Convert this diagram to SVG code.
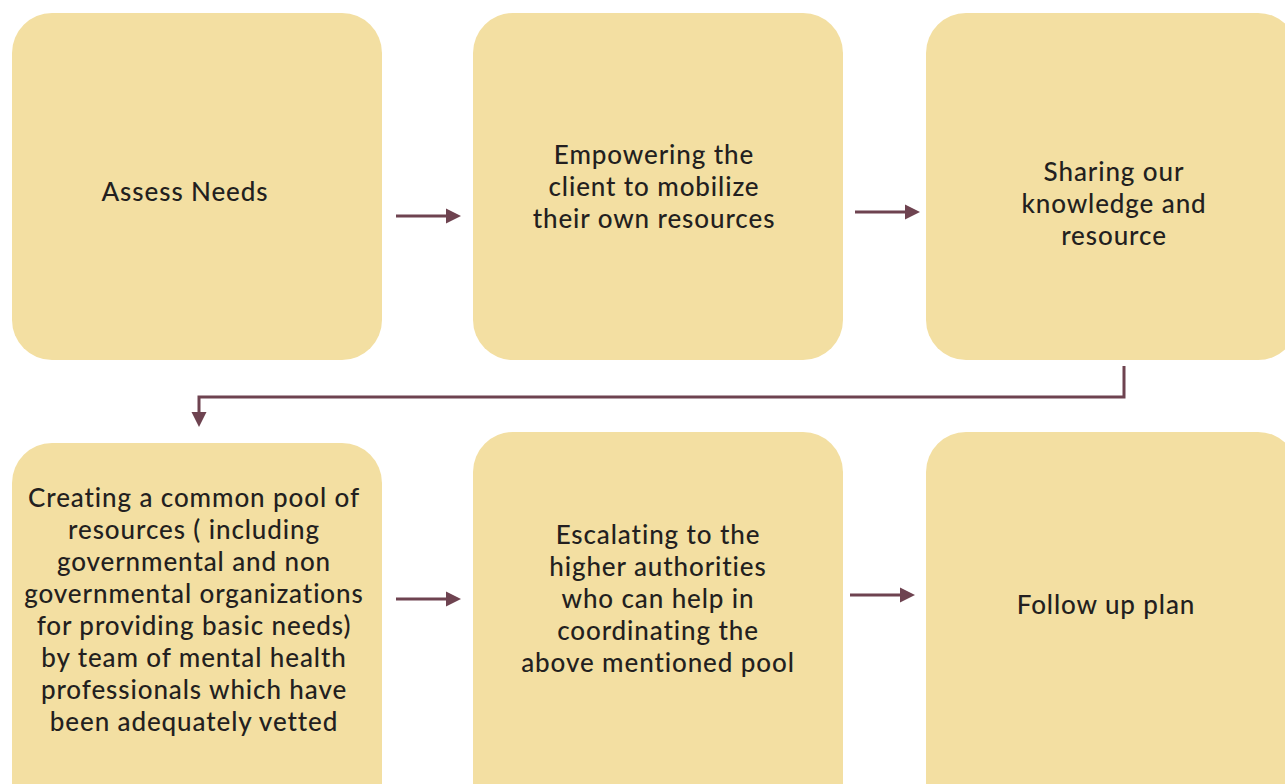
<svg xmlns="http://www.w3.org/2000/svg" width="1285" height="784" viewBox="0 0 1285 784">
<style>
.box{fill:#F3DFA2;}
.t{font-family:"Lato","Noto Sans",sans-serif;font-size:26px;font-weight:500;letter-spacing:0.9px;fill:#231F20;text-anchor:middle;}
.c{stroke:#6E4350;stroke-width:3;fill:none;}
</style>
<defs>
<marker id="ah" viewBox="0 0 10 10" refX="0" refY="5" markerWidth="5" markerHeight="6" markerUnits="strokeWidth" orient="auto">
<path d="M0,0 L10,5 L0,10 Z" fill="#6E4350"/>
</marker>
</defs>
<rect width="1285" height="784" fill="#FFFFFF"/>
<g id="n1"><rect class="box" x="12" y="13" width="370" height="347" rx="40"/>
<text class="t" x="185" y="201">Assess Needs</text></g>
<g id="n2"><rect class="box" x="473" y="13" width="370" height="347" rx="40"/>
<text class="t" x="654" y="164">Empowering the</text>
<text class="t" x="654" y="196">client to mobilize</text>
<text class="t" x="654" y="228">their own resources</text></g>
<g id="n3"><rect class="box" x="926" y="13" width="372" height="347" rx="40"/>
<text class="t" x="1114" y="181">Sharing our</text>
<text class="t" x="1114" y="213">knowledge and</text>
<text class="t" x="1114" y="245">resource</text></g>
<g id="n4"><rect class="box" x="12" y="443" width="370" height="380" rx="40"/>
<text class="t" x="194" y="507">Creating a common pool of</text>
<text class="t" x="194" y="539">resources ( including</text>
<text class="t" x="194" y="571">governmental and non</text>
<text class="t" x="194" y="603">governmental organizations</text>
<text class="t" x="194" y="635">for providing basic needs)</text>
<text class="t" x="194" y="667">by team of mental health</text>
<text class="t" x="194" y="699">professionals which have</text>
<text class="t" x="194" y="731">been adequately vetted</text></g>
<g id="n5"><rect class="box" x="473" y="432" width="370" height="390" rx="40"/>
<text class="t" x="658" y="544">Escalating to the</text>
<text class="t" x="658" y="576">higher authorities</text>
<text class="t" x="658" y="608">who can help in</text>
<text class="t" x="658" y="640">coordinating the</text>
<text class="t" x="658" y="672">above mentioned pool</text></g>
<g id="n6"><rect class="box" x="926" y="432" width="372" height="390" rx="40"/>
<text class="t" x="1106" y="614">Follow up plan</text></g>
<g id="connectors">
<path class="c" d="M396,216 H446" marker-end="url(#ah)"/>
<path class="c" d="M855,212 H905" marker-end="url(#ah)"/>
<path class="c" d="M1124,366 V397 H199 V412" marker-end="url(#ah)"/>
<path class="c" d="M396,599 H446" marker-end="url(#ah)"/>
<path class="c" d="M850,595 H900" marker-end="url(#ah)"/>
</g>
</svg>
